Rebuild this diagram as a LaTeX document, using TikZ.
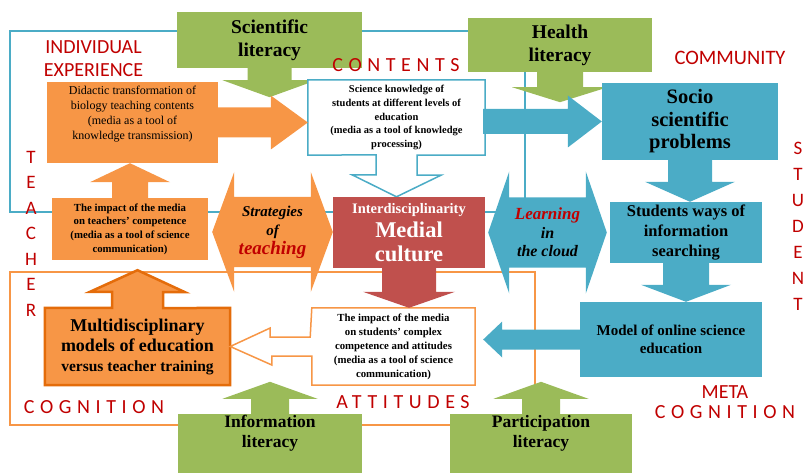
\documentclass[tikz,border=0pt]{standalone}
\usepackage{fontspec}
\setmainfont{Liberation Serif}
\newfontfamily\lblfont{Carlito}
\newfontfamily\lblwide{Carlito}[LetterSpace=28]
\usetikzlibrary{calc}
\definecolor{lit}{HTML}{9BBB59}
\definecolor{orng}{HTML}{F79646}
\definecolor{dorng}{HTML}{E46C0A}
\definecolor{aqua}{HTML}{4BACC6}
\definecolor{medred}{HTML}{C0504D}
\definecolor{lblred}{HTML}{C00000}
\pgfdeclarelayer{back}
\pgfsetlayers{back,main}
\newcommand{\setfs}[2]{\fontsize{#1}{#2}\selectfont}
% block arrow: style, base, tip, half shaft, half head, head length
\newcommand{\blockarrow}[6]{%
  \coordinate (ab) at ($(#2)!-2pt!(#3)$);
  \coordinate (hb) at ($(#3)!#6!(#2)$);
  \path[#1] ($(ab)!#4!90:(#3)$) -- ($(hb)!#4!90:(#3)$) -- ($(hb)!#5!90:(#3)$) -- (#3)
    -- ($(hb)!#5!-90:(#3)$) -- ($(hb)!#4!-90:(#3)$) -- ($(ab)!#4!-90:(#3)$) -- cycle;}
% double arrow: style, tip, tip, half body, half head, head length
\newcommand{\twinarrow}[6]{%
  \coordinate (ha) at ($(#2)!#6!(#3)$);
  \coordinate (hz) at ($(#3)!#6!(#2)$);
  \path[#1] (#2) -- ($(ha)!#5!90:(#3)$) -- ($(ha)!#4!90:(#3)$) -- ($(hz)!#4!-90:(#2)$)
    -- ($(hz)!#5!-90:(#2)$) -- (#3) -- ($(hz)!#5!90:(#2)$) -- ($(hz)!#4!90:(#2)$)
    -- ($(ha)!#4!-90:(#3)$) -- ($(ha)!#5!-90:(#3)$) -- cycle;}
\tikzset{
  box/.style={rectangle, inner sep=0pt, align=center},
  txt/.style 2 args={font=\bfseries\setfs{#1}{#2}},
  litbox/.style={box, fill=lit},
  orbox/.style={box, fill=orng},
  aqbox/.style={box, fill=aqua},
  lbl/.style={text=lblred, align=center, font=\lblfont\setfs{20}{23}},
  widelbl/.style={lbl, font=\lblwide\setfs{20}{23}},
  frame/.style={line width=1.5pt},
  hollow/.style={fill=white, line width=1.5pt, line join=miter},
}

\begin{document}
\begin{tikzpicture}[x=1pt, y=-1pt]
  \useasboundingbox (0,0) rectangle (806,473);

  % literacy
  \node[litbox, minimum width=185pt, minimum height=56pt, txt={19.5}{23}] (sci) at (269.5,40) {Scientific\\literacy};
  \node[litbox, minimum width=184pt, minimum height=54pt, txt={19.5}{23}] (health) at (560,45) {Health\\literacy};
  \node[litbox, minimum width=184pt, minimum height=61pt, txt={17.5}{20}] (info) at (270,444.5) {Information\\literacy\\ \strut};
  \node[litbox, minimum width=182pt, minimum height=61pt, txt={17.5}{20}] (partic) at (541,444.5) {Participation\\literacy\\ \strut};

  % teacher
  \node[orbox, minimum width=171pt, minimum height=81pt, font=\setfs{12}{15}] (didactic) at (132.5,122.5)
    {Didactic transformation of\\biology teaching contents\\(media as a tool of\\knowledge transmission)\\ \strut};
  \node[orbox, minimum width=156pt, minimum height=62pt, txt={10.8}{13.7}] (teach) at (130,229)
    {The impact of the media\\on teachers' competence\\(media as a tool of science\\communication)};
  \node[box, minimum width=185pt, minimum height=77pt, txt={18}{20}] (multi) at (137.5,346.5)
    {Multidisciplinary\\models of education\\{\setfs{15.5}{20}versus teacher training}};

  % middle
  \node[box, minimum width=177pt, minimum height=75pt, txt={10.5}{13.8}] (know) at (396.5,117.5)
    {Science knowledge of\\students at different levels of\\education\\(media as a tool of knowledge\\processing)};
  \node[box, fill=medred, text=white, minimum width=152pt, minimum height=71pt, txt={22.5}{24}] (medial) at (409,232.5)
    {{\setfs{14.5}{24}Interdisciplinarity}\\Medial\\culture};
  \node[box, minimum width=163pt, minimum height=77pt, txt={10.8}{14}] (impst) at (393.5,346.5)
    {The impact of the media\\on students' complex\\competence and attitudes\\(media as a tool of science\\communication)};

  % student
  \node[aqbox, minimum width=176pt, minimum height=77pt, txt={20.5}{22.5}] (socio) at (690,121.5) {Socio\\scientific\\problems};
  \node[aqbox, minimum width=152pt, minimum height=61pt, txt={16.5}{20}] (ways) at (686,232.5) {Students ways of\\information\\searching};
  \node[aqbox, minimum width=182pt, minimum height=75pt, txt={15}{18}] (model) at (671,339.5) {Model of online science\\education};

  % red words
  \node[lbl] (indiv) at (93.5,58.5) {INDIVIDUAL\\EXPERIENCE};
  \node[widelbl] (contents) at (396,65) {CONTENTS};
  \node[lbl, font=\lblfont\setfs{20.5}{23}] (community) at (730,58) {COMMUNITY};
  \node[lbl, font=\lblfont\setfs{19}{25.5}] (teacher) at (31,233.5) {T\\E\\A\\C\\H\\E\\R};
  \node[lbl, font=\lblfont\setfs{19}{26}] (student) at (798,226) {S\\T\\U\\D\\E\\N\\T};
  \node[widelbl] (cogn) at (94,407) {COGNITION};
  \node[widelbl] (attit) at (403,402) {ATTITUDES};
  \node[lbl, font=\lblfont\setfs{20}{20}] (meta) at (725,402) {META\\{\lblwide COGNITION}};

  % tips
  \coordinate (scitip) at ($(sci.south)+(0,29)$);
  \coordinate (healthtip) at ($(health.south)+(0,30)$);
  \coordinate (infotip) at ($(info.north)+(0,-32)$);
  \coordinate (partictip) at ($(partic.north)+(0,-32)$);
  \coordinate (dtip) at (know.west |- didactic.east);
  \coordinate (kstart) at (know.east |- socio.west);
  \coordinate (knowtip) at (know.south |- medial.north);
  \coordinate (wtip) at (socio.south |- ways.north);
  \coordinate (mtip) at (ways.south |- model.north);
  \coordinate (ttip) at (teach.north |- didactic.south);
  \coordinate (medtip) at (medial.south |- impst.north);
  \coordinate (mt) at (impst.east |- model.west);
  \coordinate (modtip) at ($(mt)+(8,0)$);
  \coordinate (mu) at (multi.north |- teach.south);
  \coordinate (multitip) at ($(mu)+(0,10)$);
  \coordinate (stratl) at ($(teach.east)+(4,3)$);
  \coordinate (stratr) at (medial.west |- stratl);
  \coordinate (learnl) at ($(medial.east)+(3,0)$);
  \coordinate (lr) at (ways.west |- learnl);
  \coordinate (learnr) at ($(lr)+(-3,0)$);

  \node[font=\bfseries\itshape\setfs{15}{19}, align=center] (strattxt) at ($(stratl)!0.5!(stratr)$)
    {Strategies\\of\\{\color{lblred}\setfs{19}{19}teaching}};
  \node[font=\bfseries\itshape\setfs{16}{18.5}, align=center] (learntxt) at ($(learnl)!0.5!(learnr)$)
    {{\color{lblred}\setfs{17}{18.5}Learning}\\in\\the cloud};

  \begin{pgfonlayer}{back}
    % frames
    \draw[frame, aqua] (10,31) rectangle (525,212);
    \draw[frame, orng] (10,272) rectangle (535,425);
    % green arrows
    \blockarrow{fill=lit}{sci.south}{scitip}{22pt}{47pt}{17pt}
    \blockarrow{fill=lit}{health.south}{healthtip}{23pt}{48pt}{15pt}
    \blockarrow{fill=lit}{info.north}{infotip}{19pt}{47.5pt}{17pt}
    \blockarrow{fill=lit}{partic.north}{partictip}{19pt}{47.5pt}{17pt}
    % outlined callouts
    \draw[hollow, draw=aqua] (know.south west) -- (know.north west) -- (know.north east) -- (know.south east)
      -- ($(know.south)+(20.5,0)$) -- ++(0,20) -- ++(24,0) -- (knowtip) -- ++(-44.5,-22) -- ++(24,0) -- ++(0,-20) -- cycle;
    \draw[fill=orng, draw=dorng, line width=2.5pt, line join=miter] (multi.north west) -- ($(multi.north)+(-25.5,0)$)
      -- ++(0,-16) -- ++(-22,0) -- (multitip) -- ++(47.5,22) -- ++(-22,0) -- ++(0,16)
      -- (multi.north east) -- (multi.south east) -- (multi.south west) -- cycle;
    \draw[hollow, draw=orng] (impst.north west) -- (impst.north east) -- (impst.south east) -- (impst.south west)
      -- ($(impst.west)+(0,9.5)$) -- ++(-40,0) -- ++(0,9) -- (multi.east) -- ++(40,-18.5) -- ++(0,9) -- ++(40,0) -- cycle;
    % filled arrows
    \blockarrow{fill=orng}{didactic.east}{dtip}{15pt}{27pt}{37pt}
    \blockarrow{fill=orng}{teach.north}{ttip}{18pt}{40pt}{19pt}
    \blockarrow{fill=aqua}{kstart}{socio.west}{12.5pt}{26pt}{34pt}
    \blockarrow{fill=aqua}{socio.south}{wtip}{22pt}{45pt}{20pt}
    \blockarrow{fill=aqua}{ways.south}{mtip}{23pt}{45pt}{17pt}
    \blockarrow{fill=aqua}{model.west}{modtip}{10pt}{18pt}{19pt}
    \blockarrow{fill=medred}{medial.south}{medtip}{27pt}{46pt}{16pt}
    % double arrows
    \twinarrow{fill=orng}{stratl}{stratr}{35pt}{60pt}{22pt}
    \twinarrow{fill=aqua}{learnl}{learnr}{35pt}{61pt}{21pt}
  \end{pgfonlayer}
\end{tikzpicture}
\end{document}
